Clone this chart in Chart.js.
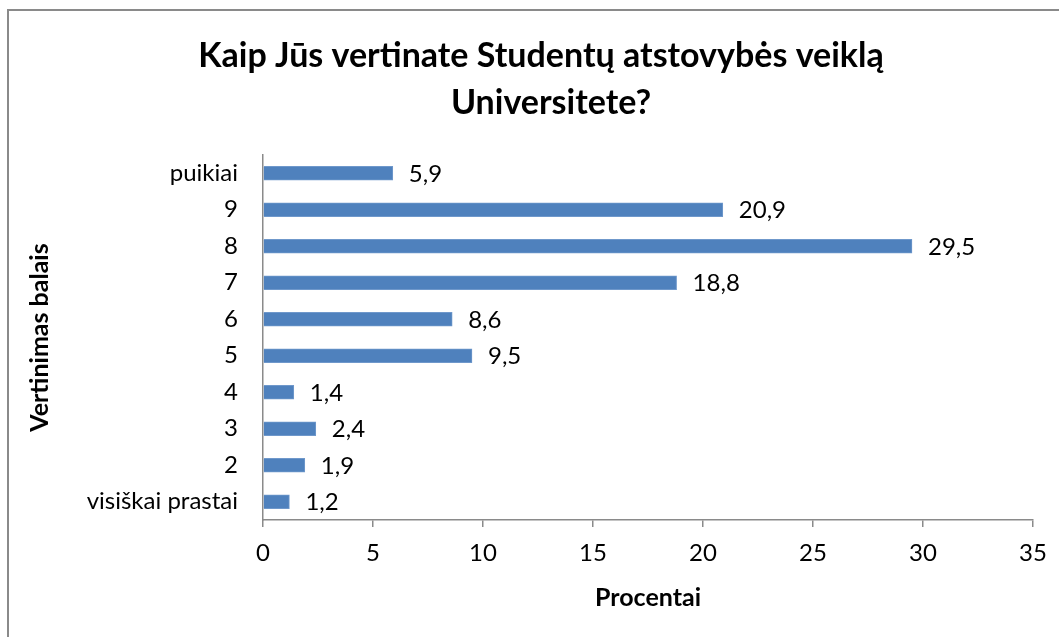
<!DOCTYPE html>
<html lang="lt">
<head>
    <meta charset="UTF-8">
    <title>Studentų atstovybės veikla</title>
    <script src="https://cdn.jsdelivr.net/npm/chart.js"></script>
    <style>
        body {
            margin: 0;
            padding: 0;
            background: #ffffff;
        }
        .wrap {
            position: relative;
            width: 1059px;
            height: 637px;
        }
    </style>
</head>
<body>
    <div class="wrap">
        <canvas id="chart" width="1059" height="637"></canvas>
    </div>

    <script>
        // data
        const categories = ['puikiai', '9', '8', '7', '6', '5', '4', '3', '2', 'visiškai prastai'];
        const percents = [5.9, 20.9, 29.5, 18.8, 8.6, 9.5, 1.4, 2.4, 1.9, 1.2];
        const xTicks = [0, 5, 10, 15, 20, 25, 30, 35];
        const titleLines = ['Kaip Jūs vertinate Studentų atstovybės veiklą', 'Universitete?'];

        const FONT = 'Lato, "Open Sans", sans-serif';
        const axisGray = '#8a8a8a';

        // outer frame + title drawn on the canvas
        const framePlugin = {
            id: 'frame',
            beforeDraw(chart) {
                const ctx = chart.ctx;
                ctx.save();
                ctx.strokeStyle = '#8a8a8a';
                ctx.lineWidth = 2;
                ctx.strokeRect(8, 10, 1200, 800);
                ctx.restore();
            },
            afterDraw(chart) {
                const ctx = chart.ctx;
                ctx.save();
                ctx.fillStyle = '#000';
                ctx.font = 'bold 34px ' + FONT;
                ctx.textAlign = 'center';
                ctx.textBaseline = 'alphabetic';
                ctx.fillText(titleLines[0], 541, 67);
                ctx.fillText(titleLines[1], 551, 114);
                ctx.restore();
            }
        };

        // value labels to the right of each bar
        const valueLabels = {
            id: 'valueLabels',
            afterDatasetsDraw(chart) {
                const ctx = chart.ctx;
                const meta = chart.getDatasetMeta(0);
                ctx.save();
                ctx.fillStyle = '#000';
                ctx.font = '24px ' + FONT;
                ctx.textAlign = 'left';
                ctx.textBaseline = 'middle';
                meta.data.forEach((bar, i) => {
                    const txt = String(percents[i]).replace('.', ',');
                    ctx.fillText(txt, bar.x + 16, bar.y + 1);
                });
                ctx.restore();
            }
        };

        new Chart(document.getElementById('chart'), {
            type: 'bar',
            data: {
                labels: categories,
                datasets: [{
                    data: percents,
                    backgroundColor: '#4f81bd',
                    borderColor: '#6f98cb',
                    borderWidth: 1,
                    barThickness: 14
                }]
            },
            options: {
                indexAxis: 'y',
                responsive: false,
                animation: false,
                layout: {
                    padding: { top: 155, right: 26, bottom: 0, left: 0 }
                },
                plugins: {
                    legend: { display: false },
                    tooltip: { enabled: false },
                    title: { display: false }
                },
                scales: {
                    x: {
                        min: 0,
                        max: 35,
                        afterBuildTicks(scale) {
                            scale.ticks = xTicks.map(v => ({ value: v }));
                        },
                        afterFit(scale) {
                            scale.height = 117;
                        },
                        grid: {
                            display: true,
                            drawOnChartArea: false,
                            drawTicks: true,
                            tickLength: 7,
                            color: axisGray,
                            lineWidth: 1.5
                        },
                        border: { display: true, color: axisGray, width: 1.5 },
                        ticks: {
                            color: '#000',
                            padding: 12,
                            maxRotation: 0,
                            font: { family: FONT, size: 24 }
                        },
                        title: {
                            display: true,
                            text: 'Procentai',
                            color: '#000',
                            font: { family: FONT, size: 25, weight: 'bold' },
                            padding: { top: 0, bottom: 24 }
                        }
                    },
                    y: {
                        afterFit(scale) {
                            scale.width = 263;
                        },
                        grid: {
                            display: true,
                            drawOnChartArea: false,
                            drawTicks: false,
                            tickLength: 0
                        },
                        border: { display: true, color: axisGray, width: 1.5 },
                        ticks: {
                            color: '#000',
                            padding: 25,
                            font: { family: FONT, size: 24 }
                        },
                        title: {
                            display: true,
                            text: 'Vertinimas balais',
                            color: '#000',
                            font: { family: FONT, size: 25, weight: 'bold' },
                            padding: { top: 25, bottom: 0 }
                        }
                    }
                }
            },
            plugins: [framePlugin, valueLabels]
        });
    </script>
</body>
</html>
